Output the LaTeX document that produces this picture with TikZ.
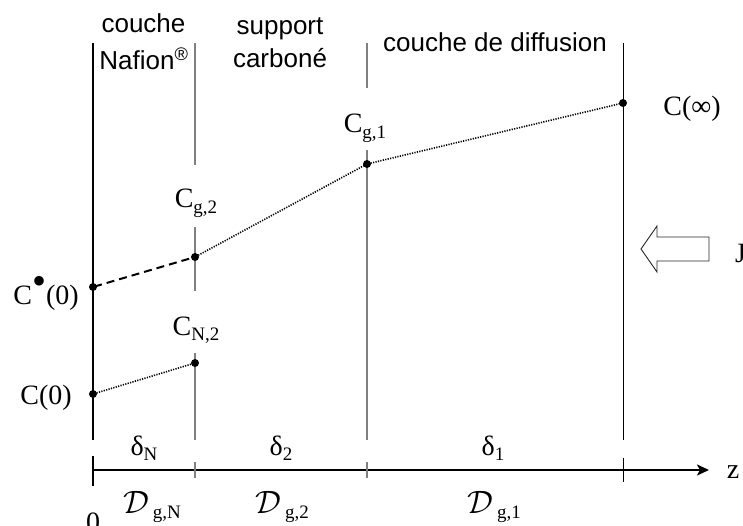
\documentclass[tikz,border=0pt]{standalone}
\usepackage{fontspec}
\setmainfont{Liberation Serif}
\newfontfamily\sansf{Liberation Sans}
\usetikzlibrary{arrows.meta}
\newcommand{\sbx}[1]{\raisebox{-0.2em}{\fontsize{19}{19}\selectfont #1}}
\newcommand{\scD}{\scalebox{1.3}{$\mathcal{D}$}}
\begin{document}
\begin{tikzpicture}[x=1pt,y=-1pt,
  lbl/.style={anchor=base, inner sep=0pt, font=\fontsize{28}{28}\selectfont},
  toplbl/.style={anchor=base, inner sep=0pt, font=\sansf\fontsize{26}{26}\selectfont},
  thickline/.style={line width=2.6pt, black},
  grayline/.style={line width=1.8pt, black!50},
  thinline/.style={line width=1pt, black},
  ptdot/.style={circle, fill=black, inner sep=0pt, minimum size=8pt},
  dotline/.style={line width=1.6pt, dash pattern=on 1.2pt off 1.3pt, shorten <=-3pt, shorten >=-3pt},
  dashline/.style={line width=2pt, dash pattern=on 8pt off 5pt, shorten <=-3pt, shorten >=-3pt},
  ]
\useasboundingbox (0,0) rectangle (743,526);
% vertical boundaries
\coordinate (A1) at (93,43);  \coordinate (A2) at (93,440);
\coordinate (B1) at (195,43); \coordinate (B2) at (195,165);
\coordinate (B3) at (195,227); \coordinate (B4) at (195,291);
\coordinate (B5) at (195,353); \coordinate (B6) at (195,440);
\coordinate (G1) at (367,43); \coordinate (G2) at (367,88);
\coordinate (G3) at (367,150); \coordinate (G4) at (367,440);
\coordinate (R1) at (623,43); \coordinate (R2) at (623,440);
\draw[thickline] (A1) -- (A2);
\draw[grayline] (B1) -- (B2) (B3) -- (B4) (B5) -- (B6);
\draw[grayline] (G1) -- (G2) (G3) -- (G4);
\draw[thinline] (R1) -- (R2);
% axis
\coordinate (O) at (93,470); \coordinate (Zend) at (709,470);
\draw[line width=2.6pt, -{Stealth[length=12pt,width=11pt,inset=3pt]}] (O) -- (Zend);
\coordinate (T1a) at (93,456); \coordinate (T1b) at (93,486);
\coordinate (T2a) at (195,462); \coordinate (T2b) at (195,478);
\coordinate (T3a) at (367,462); \coordinate (T3b) at (367,478);
\coordinate (T4a) at (623,458); \coordinate (T4b) at (623,482);
\draw[thickline] (T1a) -- (T1b);
\draw[grayline] (T2a) -- (T2b) (T3a) -- (T3b);
\draw[thinline] (T4a) -- (T4b);
% points
\node[ptdot] (Cinf) at (623,103) {};
\node[ptdot] (Cg1) at (367,164) {};
\node[ptdot] (Cg2) at (195,257) {};
\node[ptdot] (Cb0) at (93,287) {};
\node[ptdot] (CN2) at (195,363) {};
\node[ptdot] (C0) at (93,394) {};
\draw[dotline] (Cg2) -- (Cg1);
\draw[dotline] (Cg1) -- (Cinf);
\draw[dotline] (C0) -- (CN2);
\draw[dashline] (Cb0) -- (Cg2);
% labels
\node[lbl] (lCinf) at (692,116) {C(∞)};
\node[lbl] (lCg1) at (365,133) {C\sbx{g,1}};
\node[lbl] (lCg2) at (196,208) {C\sbx{g,2}};
\node[lbl] (lCN2) at (196,335) {C\sbx{N,2}};
\node[lbl] (lCb0) at (46,304) {C\raisebox{10pt}{\fontsize{40}{40}\selectfont •}(0)};
\node[lbl] (lC0) at (46,404) {C(0)};
\node[lbl] (dN) at (144,455) {δ\sbx{N}};
\node[lbl] (d2) at (281,455) {δ\sbx{2}};
\node[lbl] (d1) at (493,455) {δ\sbx{1}};
\node[lbl] (DN) at (152,513) {\scD\hspace{4pt}\sbx{g,N}};
\node[lbl] (D2) at (282,513) {\scD\hspace{4pt}\sbx{g,2}};
\node[lbl] (D1) at (494,513) {\scD\hspace{4pt}\sbx{g,1}};
\node[lbl] (zero) at (93,531) {0};
\node[lbl] (zl) at (733,478) {z};
\node[lbl, anchor=base west] (Jl) at (735,262) {J};
% top labels
\node[toplbl] (t1) at (143.5,33) {couche};
\node[toplbl] (t2) at (144,70) {Nafion\textsuperscript{®}};
\node[toplbl] (t3) at (280,35) {support};
\node[toplbl] (t4) at (280,68) {carboné};
\node[toplbl] (t5) at (495,52) {couche de diffusion};
% flux arrow
\coordinate (F1) at (641,249); \coordinate (F2) at (657,226);
\coordinate (F3) at (657,237); \coordinate (F4) at (709,237);
\coordinate (F5) at (709,261); \coordinate (F6) at (657,261);
\coordinate (F7) at (657,272);
\draw[line width=0.9pt, black!85, line join=miter] (F1) -- (F2) -- (F3) -- (F4) -- (F5) -- (F6) -- (F7) -- cycle;
\end{tikzpicture}
\end{document}
